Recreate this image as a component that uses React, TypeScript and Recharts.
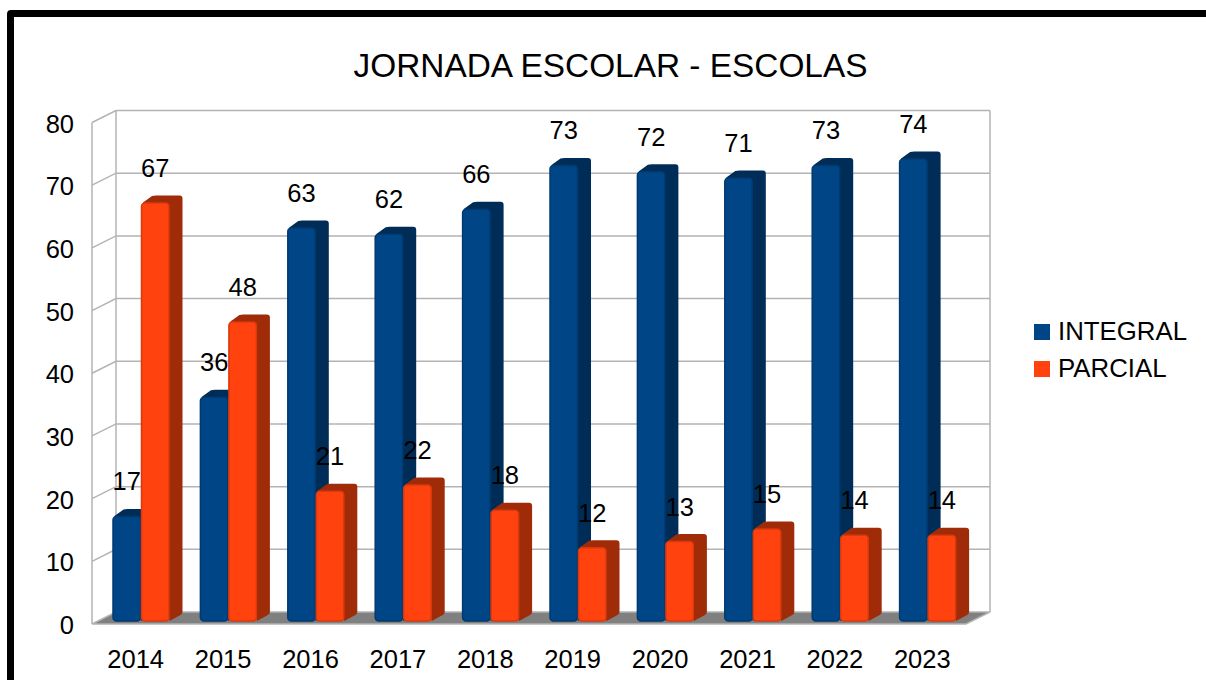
import { Bar, BarChart, LabelList, ReferenceLine, XAxis, YAxis } from 'recharts'

const years = ['2014', '2015', '2016', '2017', '2018', '2019', '2020', '2021', '2022', '2023']
const integral = [17, 36, 63, 62, 66, 73, 72, 71, 73, 74]
const parcial = [67, 48, 21, 22, 18, 12, 13, 15, 14, 14]
const yTicks = [0, 10, 20, 30, 40, 50, 60, 70, 80]

const data = years.map((year, i) => ({ year, integral: integral[i], parcial: parcial[i] }))

const FONT = '"Liberation Sans", Arial, sans-serif'
const GRID = '#b3b3b3'
const WALL_X = 24
const WALL_Y = 12
const BAR_SHIFT_X = 5.5
const BAR_SHIFT_Y = 3
const DEPTH_X = 13
const DEPTH_Y = 7

function GridRow(props: any) {
  const { x1, x2, y1, y2 } = props
  const x = Math.min(x1, x2)
  const xEnd = Math.max(x1, x2)
  const y = y1 ?? y2
  return (
    <polyline
      points={`${x},${y} ${x + WALL_X},${y - WALL_Y} ${xEnd + WALL_X},${y - WALL_Y}`}
      fill="none"
      stroke={GRID}
      strokeWidth={1.5}
    />
  )
}

function TopRow(props: any) {
  const { x1, x2, y1 } = props
  const x = Math.min(x1, x2)
  const xEnd = Math.max(x1, x2)
  const floorY = y1 + 501.5
  return (
    <g fill="none" stroke={GRID} strokeWidth={1.5}>
      <polyline points={`${x},${y1} ${x + WALL_X},${y1 - WALL_Y} ${xEnd + WALL_X},${y1 - WALL_Y}`} />
      <line x1={x} y1={y1} x2={x} y2={floorY} />
      <line x1={x + WALL_X} y1={y1 - WALL_Y} x2={x + WALL_X} y2={floorY - WALL_Y} />
      <line x1={xEnd + WALL_X} y1={y1 - WALL_Y} x2={xEnd + WALL_X} y2={floorY - WALL_Y} />
    </g>
  )
}

function FloorRow(props: any) {
  const { x1, x2, y1 } = props
  const x = Math.min(x1, x2)
  const xEnd = Math.max(x1, x2)
  return (
    <polygon
      points={`${x},${y1} ${x + WALL_X},${y1 - WALL_Y} ${xEnd + WALL_X},${y1 - WALL_Y} ${xEnd},${y1}`}
      fill="#808080"
      stroke={GRID}
      strokeWidth={1.5}
    />
  )
}

function makeBar(face: string, edge: string, side: string) {
  return function Bar3D(props: any) {
    const { x, y, width, height } = props
    const left = x + BAR_SHIFT_X
    const right = left + width
    const top = y - 1.5
    const bottom = y + height - BAR_SHIFT_Y
    return (
      <g>
        <path
          d={`M${left + 2},${top} L${left + DEPTH_X - 2},${top - DEPTH_Y + 0.5}
            Q${left + DEPTH_X},${top - DEPTH_Y} ${left + DEPTH_X + 2},${top - DEPTH_Y}
            L${right + DEPTH_X - 3},${top - DEPTH_Y}
            Q${right + DEPTH_X},${top - DEPTH_Y} ${right + DEPTH_X},${top - DEPTH_Y + 3}
            L${right + DEPTH_X},${bottom - DEPTH_Y - 2}
            Q${right + DEPTH_X},${bottom - DEPTH_Y} ${right + DEPTH_X - 2},${bottom - DEPTH_Y + 1}
            L${right},${bottom} Z`}
          fill={side}
        />
        <rect
          x={left + 0.5}
          y={top + 0.5}
          width={width - 1}
          height={bottom - top - 0.5}
          rx={3.5}
          fill={face}
          stroke={edge}
          strokeWidth={1.5}
        />
      </g>
    )
  }
}

function ValueLabel(props: any) {
  const { x, y, width, value } = props
  return (
    <text
      x={x + BAR_SHIFT_X + width / 2}
      y={y - 36}
      textAnchor="middle"
      dominantBaseline="central"
      fontFamily={FONT}
      fontSize={25.5}
      fill="#000"
    >
      {value}
    </text>
  )
}

function ChartLegend() {
  const items = [
    { name: 'INTEGRAL', color: '#004586' },
    { name: 'PARCIAL', color: '#ff420e' },
  ]
  return (
    <div style={{ position: 'absolute', left: 1034, top: 313 }}>
      {items.map((item) => (
        <div key={item.name} style={{ display: 'flex', alignItems: 'center', height: 37 }}>
          <span style={{ width: 16, height: 16, background: item.color, marginRight: 8 }} />
          <span style={{ fontFamily: FONT, fontSize: 25.8, color: '#000' }}>{item.name}</span>
        </div>
      ))}
    </div>
  )
}

export default function App() {
  return (
    <div style={{ position: 'absolute', left: 0, top: 0, width: 1206, height: 680, overflow: 'hidden', background: '#fff' }}>
      <div
        style={{
          position: 'absolute',
          left: 7,
          top: 10,
          width: 1400,
          height: 900,
          border: '7px solid #000',
          borderRadius: 4,
        }}
      />
      <div
        style={{
          position: 'absolute',
          left: 0,
          width: 1221,
          top: 46,
          textAlign: 'center',
          fontFamily: FONT,
          fontSize: 33.4,
          lineHeight: '40px',
          color: '#000',
        }}
      >
        JORNADA ESCOLAR - ESCOLAS
      </div>
      <div style={{ position: 'absolute', left: 0, top: 0 }}>
        <BarChart
          width={1206}
          height={680}
          data={data}
          margin={{ top: 122.5, right: 240, bottom: 0, left: 0 }}
          barSize={28.5}
          barGap={0}
        >
          <XAxis
            dataKey="year"
            height={56}
            axisLine={false}
            tickLine={false}
            tickMargin={20}
            interval={0}
            tick={{ fill: '#000', fontSize: 25.5, fontFamily: FONT }}
          />
          <YAxis
            width={92}
            domain={[0, 80]}
            ticks={yTicks}
            axisLine={false}
            tickLine={false}
            tickMargin={12}
            dy={1}
            tick={{ fill: '#000', fontSize: 25.5, fontFamily: FONT }}
          />
          {yTicks.map((tick) => (
            <ReferenceLine
              key={tick}
              y={tick}
              zIndex={-100}
              shape={tick === 0 ? FloorRow : tick === 80 ? TopRow : GridRow}
            />
          ))}
          <Bar dataKey="integral" isAnimationActive={false} shape={makeBar('#004586', '#003a70', '#002d57')}>
            <LabelList dataKey="integral" content={ValueLabel} />
          </Bar>
          <Bar dataKey="parcial" isAnimationActive={false} shape={makeBar('#ff420e', '#d93a0d', '#a02b09')}>
            <LabelList dataKey="parcial" content={ValueLabel} />
          </Bar>
        </BarChart>
      </div>
      <ChartLegend />
    </div>
  )
}
